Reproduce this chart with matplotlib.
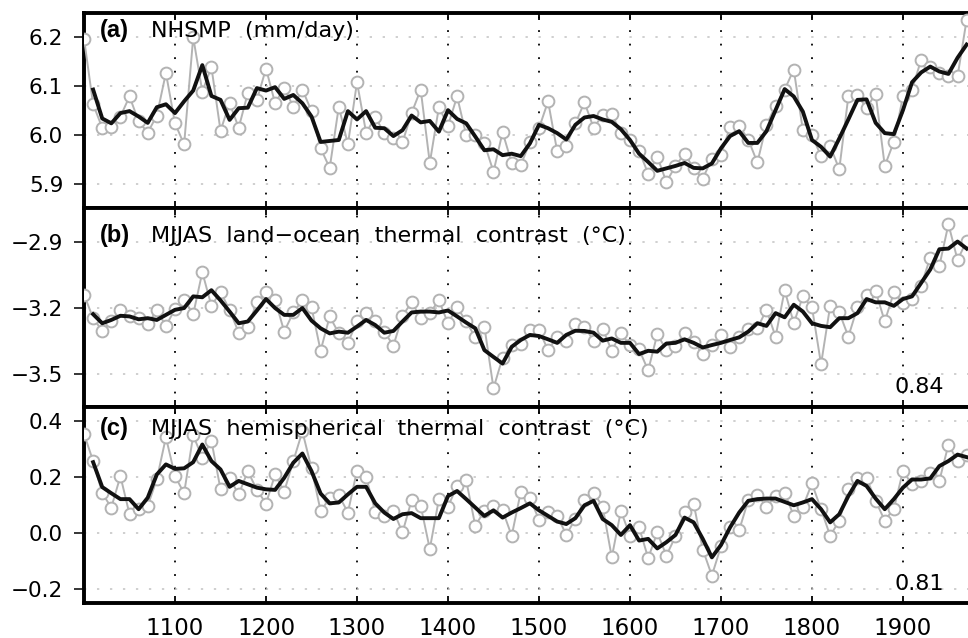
import matplotlib.pyplot as plt
import numpy as np

# decadal values, 1000-1970
years = np.arange(1000, 1980, 10)
# running-mean curves start one decade later
smooth_years = years[1:]

nhsmp = [6.197, 6.063, 6.015, 6.017, 6.038, 6.079, 6.028, 6.005, 6.040, 6.127,
         6.024, 5.981, 6.200, 6.089, 6.139, 6.009, 6.065, 6.015, 6.086, 6.072,
         6.136, 6.065, 6.097, 6.058, 6.093, 6.049, 5.973, 5.933, 6.058, 5.981,
         6.108, 6.005, 6.036, 6.005, 5.995, 5.985, 6.045, 6.093, 5.943, 6.057,
         6.019, 6.079, 6.000, 6.000, 5.983, 5.925, 6.006, 5.943, 5.939, 5.985,
         6.014, 6.069, 5.967, 5.978, 6.024, 6.067, 6.015, 6.041, 6.043, 6.004,
         5.990, 5.968, 5.921, 5.956, 5.904, 5.937, 5.962, 5.932, 5.911, 5.952,
         5.959, 6.017, 6.019, 5.991, 5.944, 6.021, 6.060, 6.093, 6.134, 6.010,
         6.000, 5.957, 5.978, 5.930, 6.079, 6.081, 6.056, 6.084, 5.937, 5.986,
         6.079, 6.093, 6.154, 6.140, 6.127, 6.121, 6.120, 6.236]
nhsmp_smooth = [6.093, 6.034, 6.024, 6.045, 6.049, 6.038, 6.025, 6.057, 6.063, 6.045,
                6.069, 6.091, 6.143, 6.080, 6.072, 6.031, 6.055, 6.056, 6.096, 6.091,
                6.098, 6.074, 6.082, 6.065, 6.038, 5.986, 5.988, 5.990, 6.049, 6.032,
                6.049, 6.015, 6.014, 5.998, 6.010, 6.040, 6.026, 6.029, 6.007, 6.051,
                6.033, 6.024, 5.997, 5.969, 5.971, 5.959, 5.962, 5.957, 5.983, 6.021,
                6.014, 6.004, 5.991, 6.021, 6.036, 6.039, 6.032, 6.027, 6.012, 5.990,
                5.962, 5.945, 5.927, 5.932, 5.937, 5.943, 5.933, 5.932, 5.942, 5.973,
                5.998, 6.008, 5.984, 5.984, 6.008, 6.051, 6.094, 6.079, 6.048, 5.990,
                5.976, 5.956, 5.993, 6.032, 6.072, 6.073, 6.025, 6.004, 6.002, 6.051,
                6.108, 6.128, 6.140, 6.130, 6.125, 6.158, 6.185]

land_ocean = [-3.141, -3.248, -3.305, -3.259, -3.210, -3.240, -3.248, -3.274, -3.213, -3.283,
              -3.207, -3.164, -3.230, -3.039, -3.192, -3.129, -3.210, -3.314, -3.286, -3.176,
              -3.131, -3.164, -3.309, -3.222, -3.167, -3.198, -3.396, -3.240, -3.317, -3.360,
              -3.263, -3.225, -3.259, -3.309, -3.373, -3.237, -3.176, -3.245, -3.225, -3.167,
              -3.271, -3.198, -3.263, -3.335, -3.286, -3.566, -3.427, -3.370, -3.363, -3.302,
              -3.302, -3.393, -3.332, -3.350, -3.274, -3.286, -3.350, -3.297, -3.396, -3.317,
              -3.370, -3.390, -3.485, -3.321, -3.393, -3.373, -3.317, -3.355, -3.411, -3.370,
              -3.324, -3.378, -3.332, -3.298, -3.294, -3.210, -3.332, -3.121, -3.271, -3.149,
              -3.198, -3.457, -3.192, -3.221, -3.332, -3.198, -3.141, -3.126, -3.263, -3.131,
              -3.179, -3.161, -3.100, -2.973, -3.011, -2.821, -2.984, -2.897]
land_ocean_smooth = [-3.230, -3.271, -3.256, -3.237, -3.240, -3.253, -3.248, -3.256, -3.233, -3.210,
                     -3.202, -3.149, -3.153, -3.121, -3.167, -3.218, -3.271, -3.263, -3.213, -3.161,
                     -3.202, -3.233, -3.233, -3.202, -3.259, -3.294, -3.317, -3.309, -3.314, -3.286,
                     -3.256, -3.279, -3.314, -3.306, -3.263, -3.222, -3.218, -3.218, -3.222, -3.213,
                     -3.240, -3.268, -3.294, -3.393, -3.424, -3.454, -3.378, -3.347, -3.324, -3.329,
                     -3.344, -3.360, -3.324, -3.305, -3.306, -3.314, -3.350, -3.340, -3.360, -3.360,
                     -3.411, -3.396, -3.400, -3.363, -3.360, -3.344, -3.360, -3.381, -3.370, -3.360,
                     -3.347, -3.335, -3.309, -3.271, -3.283, -3.225, -3.244, -3.187, -3.218, -3.271,
                     -3.283, -3.289, -3.248, -3.248, -3.225, -3.161, -3.176, -3.176, -3.192, -3.161,
                     -3.149, -3.088, -3.027, -2.935, -2.932, -2.900, -2.932]

hemispheric = [0.353, 0.256, 0.141, 0.090, 0.202, 0.066, 0.084, 0.096, 0.191, 0.341,
               0.202, 0.141, 0.348, 0.267, 0.329, 0.155, 0.194, 0.137, 0.220, 0.153,
               0.104, 0.208, 0.147, 0.256, 0.362, 0.230, 0.078, 0.123, 0.134, 0.072,
               0.222, 0.200, 0.075, 0.060, 0.078, 0.001, 0.116, 0.096, -0.058, 0.120,
               0.093, 0.167, 0.187, 0.025, 0.078, 0.096, 0.080, -0.011, 0.146, 0.125,
               0.046, 0.075, 0.060, -0.007, 0.049, 0.116, 0.143, 0.093, -0.088, 0.078,
               -0.011, 0.020, -0.091, 0.001, -0.082, -0.013, 0.075, 0.104, -0.060, -0.153,
               -0.049, 0.021, 0.009, 0.116, 0.135, 0.093, 0.131, 0.143, 0.060, 0.093,
               0.176, 0.084, -0.011, 0.043, 0.155, 0.196, 0.196, 0.114, 0.043, 0.086,
               0.220, 0.173, 0.185, 0.214, 0.185, 0.315, 0.256, 0.276]
hemispheric_smooth = [0.252, 0.163, 0.141, 0.120, 0.120, 0.084, 0.125, 0.208, 0.244, 0.228,
                      0.230, 0.252, 0.315, 0.256, 0.226, 0.164, 0.185, 0.173, 0.161, 0.155,
                      0.153, 0.196, 0.250, 0.283, 0.220, 0.140, 0.105, 0.108, 0.137, 0.164,
                      0.164, 0.105, 0.072, 0.049, 0.066, 0.070, 0.052, 0.052, 0.052, 0.131,
                      0.149, 0.120, 0.090, 0.060, 0.080, 0.054, 0.072, 0.088, 0.105, 0.080,
                      0.060, 0.040, 0.031, 0.052, 0.098, 0.114, 0.049, 0.027, -0.008, 0.027,
                      -0.028, -0.022, -0.056, -0.034, -0.008, 0.054, 0.037, -0.022, -0.088, -0.044,
                      0.019, 0.072, 0.114, 0.120, 0.122, 0.122, 0.110, 0.098, 0.108, 0.120,
                      0.084, 0.037, 0.066, 0.131, 0.185, 0.167, 0.122, 0.084, 0.120, 0.161,
                      0.190, 0.190, 0.194, 0.238, 0.256, 0.279, 0.270]

x_ticks = [1100, 1200, 1300, 1400, 1500, 1600, 1700, 1800, 1900]
x_labels = [str(t) for t in x_ticks]

a_ticks = [5.9, 6.0, 6.1, 6.2]
a_labels = ['5.9', '6.0', '6.1', '6.2']
b_ticks = [-3.5, -3.2, -2.9]
b_labels = ['\u22123.5', '\u22123.2', '\u22122.9']
c_ticks = [-0.2, 0.0, 0.2, 0.4]
c_labels = ['\u22120.2', '0.0', '0.2', '0.4']

GRAY = '#b3b3b3'


def draw_panel(ax, raw, smooth, ylim, yticks, ylabels, tag, title, tag_y, corr=None):
    ax.plot(years, raw, color=GRAY, lw=1.4, marker='o', ms=8.5, mfc='white',
            mec=GRAY, mew=1.4, zorder=3)
    ax.plot(smooth_years, smooth, color='#111111', lw=2.8, zorder=4)

    ax.set_xlim(1000, 2000)
    ax.set_ylim(*ylim)
    ax.set_yticks(yticks, ylabels)
    ax.set_xticks(x_ticks, x_labels)

    ax.yaxis.grid(True, color='#c2c2c2', lw=1.1, linestyle=(0, (1.5, 7)))
    ax.xaxis.grid(True, color='black', lw=1.3, linestyle=(0, (1, 6.5)))
    ax.set_axisbelow(True)

    for s in ax.spines.values():
        s.set_linewidth(2.8)

    ax.tick_params(axis='y', direction='out', length=7, width=1.1, pad=8, labelsize=15.5)
    ax.tick_params(axis='x', direction='in', length=5, width=1.3, top=True,
                   bottom=True, pad=10, labelsize=16.5)

    ax.text(0.0176, tag_y, tag, transform=ax.transAxes, fontsize=17,
            fontweight='bold', family='Liberation Sans', va='baseline')
    ax.text(0.0736, tag_y, title, transform=ax.transAxes, fontsize=16,
            va='baseline')
    if corr is not None:
        ax.text(0.945, corr[1], corr[0], transform=ax.transAxes, fontsize=16,
                ha='right', va='baseline')


fig = plt.figure(figsize=(9.68, 6.38), dpi=100)

left = 0.0868
width = 0.940
ax_a = fig.add_axes([left, 0.6732, width, 0.3068])
ax_b = fig.add_axes([left, 0.3625, width, 0.3107])
ax_c = fig.add_axes([left, 0.0553, width, 0.3072])

draw_panel(ax_a, nhsmp, nhsmp_smooth, (5.85, 6.25), a_ticks, a_labels,
           '(a)', 'NHSMP  (mm/day)', 0.877)
draw_panel(ax_b, land_ocean, land_ocean_smooth, (-3.65, -2.75), b_ticks, b_labels,
           '(b)', 'MJJAS  land\u2212ocean  thermal  contrast  (\u00b0C)', 0.8325,
           corr=('0.84', 0.0706))
draw_panel(ax_c, hemispheric, hemispheric_smooth, (-0.25, 0.45), c_ticks, c_labels,
           '(c)', 'MJJAS  hemispherical  thermal  contrast  (\u00b0C)', 0.856,
           corr=('0.81', 0.065))

ax_a.tick_params(axis='x', labelbottom=False)
ax_b.tick_params(axis='x', labelbottom=False)

fig.savefig('out.png', dpi=100)
